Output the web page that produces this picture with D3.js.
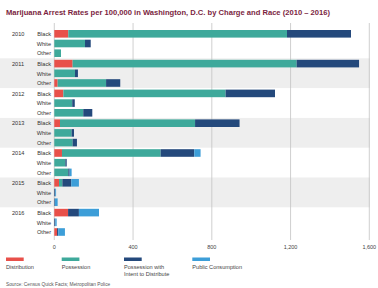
<!DOCTYPE html>
<html>
<head>
<meta charset="utf-8">
<script src="https://cdn.jsdelivr.net/npm/d3@7"></script>
<style>
  body { margin: 0; background: #fff; }
  text { font-family: "Liberation Sans", Arial, sans-serif; }
</style>
</head>
<body>
<div id="chart"></div>
<script>
var years = ["2010", "2011", "2012", "2013", "2014", "2015", "2016"]
var races = ["Black", "White", "Other"]
var charges = ["Distribution", "Possession", "Possession with Intent to Distribute", "Public Consumption"]
var colors = ["#e8504a", "#3ea99b", "#24497c", "#3d9ed8"]
var ticks = [0, 400, 800, 1200, 1600]

// one row per year/race, values in charge order
var distribution = [71, 0, 0, 93, 0, 17, 46, 0, 0, 29, 0, 0, 39, 0, 0, 24, 0, 0, 70, 0, 14]
var possession = [1111, 156, 34, 1138, 105, 246, 824, 91, 147, 686, 88, 93, 501, 56, 71, 17, 0, 0, 0, 0, 0]
var intent = [325, 29, 0, 317, 15, 72, 251, 13, 46, 226, 12, 22, 171, 7, 7, 45, 5, 3, 55, 5, 6]
var publicUse = [0, 0, 0, 0, 0, 0, 0, 0, 0, 0, 0, 0, 32, 0, 10, 39, 4, 14, 102, 7, 34]

var width = 378, height = 288
var top0 = 28.5, groupH = 29.8, rowH = 9.7

var svg = d3.select("#chart")
  .append("svg")
  .attr("width", width)
  .attr("height", height)

svg.append("text")
  .attr("x", 6).attr("y", 15)
  .attr("font-size", 7.6).attr("font-weight", "bold")
  .attr("fill", "#7b1f3f")
  .text("Marijuana Arrest Rates per 100,000 in Washington, D.C. by Charge and Race (2010 \u2013 2016)")

var x = d3.scaleLinear().domain([0, 1600]).range([54.3, 369.3])

// shaded bands for alternate years
years.forEach(function(yr, i) {
  if (i % 2 === 1) {
    svg.append("rect")
      .attr("x", 0).attr("y", top0 + i * groupH)
      .attr("width", 370).attr("height", groupH)
      .attr("fill", "#eeeeee")
  }
})

// grid
svg.append("g").selectAll("line")
  .data(ticks)
  .enter().append("line")
  .attr("x1", function(d) { return x(d) })
  .attr("x2", function(d) { return x(d) })
  .attr("y1", 23).attr("y2", 240)
  .attr("stroke", "#c4c4c4").attr("stroke-width", 0.8)

svg.append("g").selectAll("text")
  .data(ticks)
  .enter().append("text")
  .attr("x", function(d) { return x(d) })
  .attr("y", 249)
  .attr("text-anchor", "middle")
  .attr("font-size", 5.5).attr("fill", "#444")
  .text(function(d) { return d3.format(",")(d) })

var rows = []
years.forEach(function(yr, i) {
  races.forEach(function(r, j) {
    var k = i * 3 + j
    rows.push({ year: yr, race: r, yi: i, ri: j,
      vals: [distribution[k], possession[k], intent[k], publicUse[k]] })
  })
})

function rowY(d) { return top0 + d.yi * groupH + 5.5 + d.ri * rowH }

rows.forEach(function(d) {
  var acc = 0
  d.vals.forEach(function(v, c) {
    if (v > 0) {
      svg.append("rect")
        .attr("x", x(acc))
        .attr("y", rowY(d) - 4)
        .attr("width", x(acc + v) - x(acc))
        .attr("height", 7.6)
        .attr("fill", colors[c])
    }
    acc += v
  })
  svg.append("text")
    .attr("x", 51).attr("y", rowY(d) + 2)
    .attr("text-anchor", "end")
    .attr("font-size", 5.6).attr("fill", "#333")
    .text(d.race)
  if (d.ri === 0) {
    svg.append("text")
      .attr("x", 12).attr("y", rowY(d) + 2)
      .attr("font-size", 5.6).attr("fill", "#333")
      .text(d.year)
  }
})

// legend
var legX = [6, 61.7, 124, 192.3]
charges.forEach(function(c, i) {
  svg.append("rect")
    .attr("x", legX[i]).attr("y", 257.5)
    .attr("width", 17.7).attr("height", 3.5)
    .attr("fill", colors[i])
  var t = svg.append("text")
    .attr("x", legX[i]).attr("y", 269)
    .attr("font-size", 5.6).attr("fill", "#444")
  if (i === 2) {
    t.append("tspan").attr("x", legX[i]).text("Possession with")
    t.append("tspan").attr("x", legX[i]).attr("dy", 6.6).text("Intent to Distribute")
  } else {
    t.text(c)
  }
})

svg.append("text")
  .attr("x", 6).attr("y", 286)
  .attr("font-size", 4.8).attr("fill", "#555")
  .text("Source: Census Quick Facts; Metropolitan Police")
</script>
</body>
</html>
